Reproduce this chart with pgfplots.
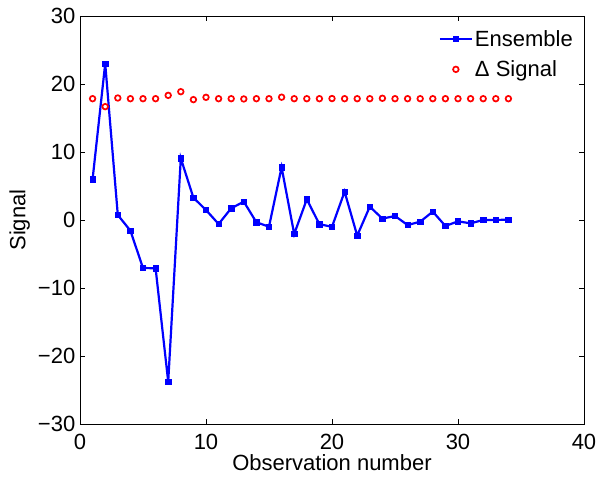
\documentclass[border=0pt]{standalone}
\usepackage{pgfplots}
\pgfplotsset{compat=1.18}
\usepackage{fontspec}
\setmainfont{Liberation Sans}

\pgfplotstableread{
x y
1 6.0
2 23.0
3 0.74
4 -1.57
5 -7.06
6 -7.1
7 -23.8
8 9.07
9 3.28
10 1.47
11 -0.59
12 1.72
13 2.7
14 -0.34
15 -0.98
16 7.75
17 -2.06
18 3.04
19 -0.62
20 -1.0
21 4.17
22 -2.3
23 1.96
24 0.2
25 0.59
26 -0.74
27 -0.25
28 1.23
29 -0.88
30 -0.2
31 -0.49
32 0.0
33 0.0
34 0.05
}\ensemble

\pgfplotstableread{
x y
1 17.84
2 16.67
3 17.94
4 17.84
5 17.84
6 17.84
7 18.33
8 18.87
9 17.70
10 18.04
11 17.84
12 17.84
13 17.80
14 17.84
15 17.84
16 18.06
17 17.84
18 17.84
19 17.84
20 17.86
21 17.84
22 17.84
23 17.84
24 17.90
25 17.84
26 17.84
27 17.84
28 17.84
29 17.84
30 17.84
31 17.84
32 17.84
33 17.84
34 17.84
}\delta

\begin{document}
\begin{tikzpicture}
\useasboundingbox (-80pt,-54pt) rectangle (517pt,424pt);
\begin{axis}[
  scale only axis,
  width=504pt, height=408pt,
  xmin=0, xmax=40, ymin=-30, ymax=30,
  xtick={0,10,20,30,40},
  ytick={-30,-20,-10,0,10,20,30},
  yticklabels={−30,−20,−10,0,10,20,30},
  tick align=inside,
  major tick length=5pt,
  every tick/.style={black, line width=0.6pt},
  axis line style={black, line width=0.9pt},
  font=\fontsize{22}{26}\selectfont,
  /pgf/number format/assume math mode=true,
  xticklabel style={inner sep=0pt, yshift=-10pt},
  yticklabel style={inner sep=0pt, xshift=-4.5pt},
  xlabel={Observation number},
  ylabel={Signal},
  xlabel style={at={(axis description cs:0.5,0)}, anchor=base, yshift=-47pt, inner sep=0pt},
  ylabel style={at={(axis description cs:0,0.5)}, anchor=base, rotate=0, yshift=54.5pt, inner sep=0pt},
  legend style={at={(axis description cs:1,1)}, anchor=north east, xshift=-9pt, yshift=-12pt,
    draw=none, fill=none, inner sep=0pt, row sep=9pt,
    nodes={inner sep=2pt, font=\fontsize{22}{26}\selectfont}},
  legend cell align=left,
  legend image code/.code={\draw[mark repeat=2,mark phase=2,#1] plot coordinates {(0pt,0pt) (16pt,0pt) (32pt,0pt)};},
]
\addplot[color={rgb,255:red,0;green,0;blue,255}, line width=2.2pt, mark=square*, mark size=2.7pt,
  mark options={solid, fill={rgb,255:red,0;green,0;blue,255}, line width=0.5pt}] table[x=x,y=y] {\ensemble};
\addlegendentry{Ensemble}
\addplot[only marks, color={rgb,255:red,255;green,0;blue,0}, mark=o, mark size=2.8pt,
  mark options={line width=1.7pt}] table[x=x,y=y] {\delta};
\addlegendentry{Δ Signal}
\end{axis}
\end{tikzpicture}
\end{document}
